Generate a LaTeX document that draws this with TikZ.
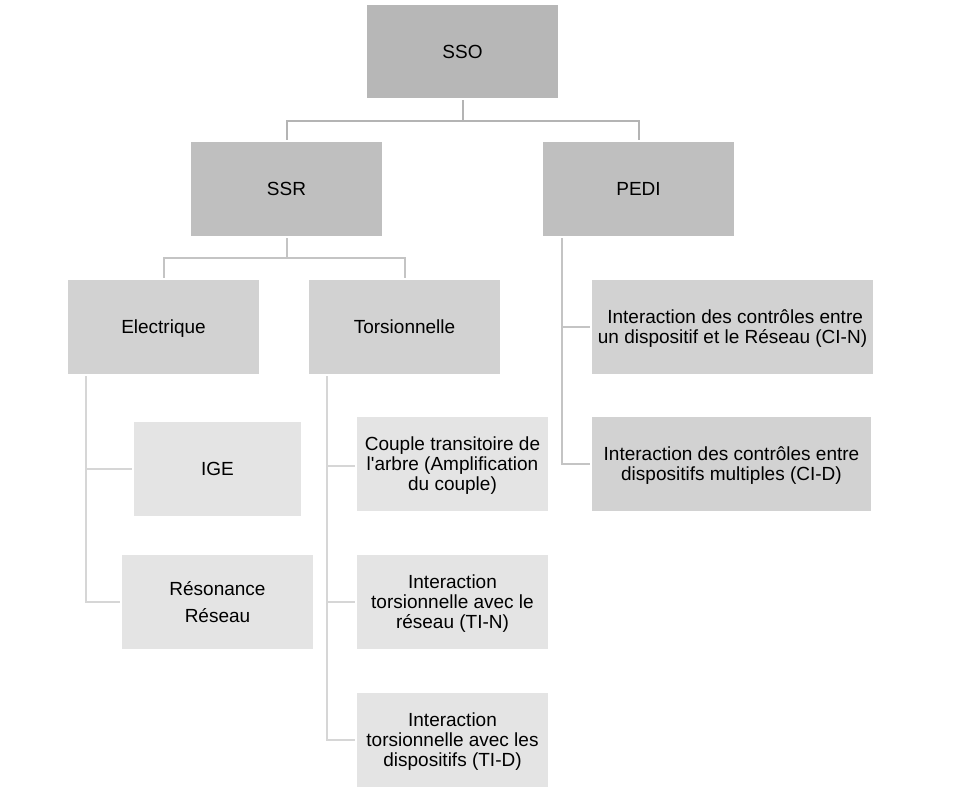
\documentclass[tikz,border=0pt]{standalone}
\usepackage{fontspec}
\setmainfont{Liberation Sans}
\begin{document}
\begin{tikzpicture}[x=1pt,y=-1pt,
  box/.style={rectangle,inner sep=0pt,minimum width=191pt,minimum height=94pt,align=center,
    font=\fontsize{19}{20}\selectfont,text=black,text depth=0pt},
  oneline/.style={text height=13.8pt},
  lvlzero/.style={box,fill=c0},
  lvlone/.style={box,fill=c1},
  lvltwo/.style={box,fill=c2},
  lvlthree/.style={box,fill=c3},
  conn/.style={line width=2pt,draw=#1},
  conn/.default=lc1]
\definecolor{c0}{HTML}{B7B7B7}
\definecolor{c1}{HTML}{BFBFBF}
\definecolor{c2}{HTML}{D2D2D2}
\definecolor{c3}{HTML}{E4E4E4}
\definecolor{lc0}{HTML}{B4B4B4}
\definecolor{lc1}{HTML}{C4C4C4}
\definecolor{lc2}{HTML}{D6D6D6}
\useasboundingbox[fill=white] (0,0) rectangle (969,794);

\node[lvlzero,oneline,minimum height=93pt] (sso) at (462.5,51.5) {SSO};
\node[lvlone,oneline] (ssr) at (286.5,189) {SSR};
\node[lvlone,oneline] (pedi) at (638.5,189) {PEDI};
\node[lvltwo,oneline] (elec) at (163.5,327) {Electrique};
\node[lvltwo,oneline] (tors) at (404.5,327) {Torsionnelle};
\node[lvltwo,minimum width=281pt] (cin) at (732.5,327) {\ Interaction des contrôles entre\\un dispositif et le Réseau (CI-N)};
\node[lvltwo,minimum width=279pt] (cid) at (731.5,464) {Interaction des contrôles entre\\dispositifs multiples (CI-D)};
\node[lvlthree,oneline,minimum width=167pt] (ige) at (217.5,469) {IGE};
\node[lvlthree] (res) at (217.5,602) {Résonance\\[7pt]Réseau};
\node[lvlthree] (coup) at (452.5,464) {Couple transitoire de\\l\textquotesingle arbre (Amplification\\du couple)};
\node[lvlthree] (tin) at (452.5,602) {Interaction\\torsionnelle avec le\\réseau (TI-N)};
\node[lvlthree] (tid) at (452.5,740) {Interaction\\torsionnelle avec les\\dispositifs (TI-D)};

% SSO connectors
\draw[conn=lc0] ([yshift=-2pt]sso.south) -- ++(0,-21pt) -| ([yshift=2pt]ssr.north);
\draw[conn=lc0] ([yshift=-2pt]sso.south) -- ++(0,-21pt) -| ([yshift=2pt]pedi.north);
% SSR connectors
\draw[conn=lc1] ([yshift=-2pt]ssr.south) -- ++(0,-20pt) -| ([yshift=2pt]elec.north);
\draw[conn=lc1] ([yshift=-2pt]ssr.south) -- ++(0,-20pt) -| ([yshift=2pt]tors.north);
% PEDI connectors
\draw[conn=lc1] ([xshift=19.5pt,yshift=-2pt]pedi.south west) |- ([xshift=-2pt]cin.west);
\draw[conn=lc1] ([xshift=19.5pt,yshift=-2pt]pedi.south west) |- ([xshift=-2pt]cid.west);
% Electrique connectors
\draw[conn=lc2] ([xshift=18pt,yshift=-2pt]elec.south west) |- ([xshift=-2pt]ige.west);
\draw[conn=lc2] ([xshift=18pt,yshift=-2pt]elec.south west) |- ([xshift=-2pt]res.west);
% Torsionnelle connectors
\draw[conn=lc2] ([xshift=18pt,yshift=-2pt]tors.south west) |- ([xshift=-2pt,yshift=-1.5pt]coup.west);
\draw[conn=lc2] ([xshift=18pt,yshift=-2pt]tors.south west) |- ([xshift=-2pt]tin.west);
\draw[conn=lc2] ([xshift=18pt,yshift=-2pt]tors.south west) |- ([xshift=-2pt]tid.west);
\end{tikzpicture}
\end{document}
